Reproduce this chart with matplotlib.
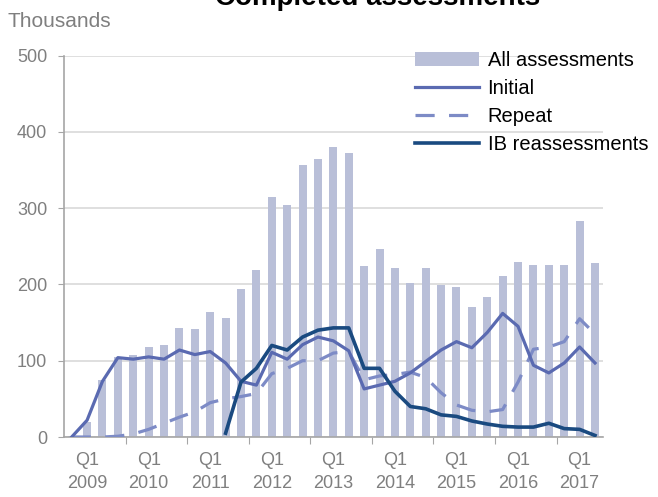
import matplotlib as mpl
mpl.use('Agg')
import matplotlib.pyplot as plt
import numpy as np

plt.rcParams['font.family'] = ['Liberation Sans', 'DejaVu Sans']

quarters = ['Q4 2008',
            'Q1 2009', 'Q2 2009', 'Q3 2009', 'Q4 2009',
            'Q1 2010', 'Q2 2010', 'Q3 2010', 'Q4 2010',
            'Q1 2011', 'Q2 2011', 'Q3 2011', 'Q4 2011',
            'Q1 2012', 'Q2 2012', 'Q3 2012', 'Q4 2012',
            'Q1 2013', 'Q2 2013', 'Q3 2013', 'Q4 2013',
            'Q1 2014', 'Q2 2014', 'Q3 2014', 'Q4 2014',
            'Q1 2015', 'Q2 2015', 'Q3 2015', 'Q4 2015',
            'Q1 2016', 'Q2 2016', 'Q3 2016', 'Q4 2016',
            'Q1 2017', 'Q2 2017']

# thousands
all_assessments = [1, 20, 75, 105, 107, 118, 121, 143, 142, 164, 156, 194, 219, 314,
                   304, 356, 365, 380, 372, 224, 246, 221, 202, 222, 199, 197, 170,
                   184, 211, 229, 225, 225, 225, 283, 228]
initial = [0, 22, 73, 104, 102, 105, 102, 114, 108, 112, 97, 73, 68, 111, 102, 121,
           131, 126, 113, 63, 68, 73, 84, 99, 114, 125, 117, 137, 162, 145, 94, 84,
           97, 118, 97]
repeat = [0, 0, 0, 1, 4, 10, 18, 26, 33, 45, 50, 53, 57, 83, 90, 100, 100, 110, 112,
          75, 80, 82, 85, 78, 58, 42, 35, 33, 36, 72, 115, 118, 125, 155, 135]
ib_reassessments = [None, None, None, None, None, None, None, None, None, None,
                    5, 72, 90, 120, 114, 131, 140, 143, 143, 90, 90, 60, 40, 37, 29,
                    27, 21, 17, 14, 13, 13, 18, 11, 10, 2]

x = np.arange(len(quarters))
ib = np.array([np.nan if v is None else v for v in ib_reassessments], dtype=float)

fig = plt.figure(figsize=(6.58, 4.97), dpi=100)
ax = fig.add_axes([64/658, 60/497, 538.7/658, 381.5/497])

bars = ax.bar(x, all_assessments, width=0.52, color='#B9BFD8', label='All assessments', zorder=2)
l_rep, = ax.plot(x, repeat, color='#7D8BC6', lw=2.3, linestyle=(0, (6, 4.5)),
                 label='Repeat', zorder=3)
l_ini, = ax.plot(x, initial, color='#5A6AB1', lw=2.3, label='Initial', zorder=4)
l_ib, = ax.plot(x, ib, color='#1A4A80', lw=2.6, label='IB reassessments', zorder=5)

ax.set_xlim(-0.5, len(quarters) - 0.5)
ax.set_ylim(0, 500)
ax.set_yticks(np.arange(0, 501, 100))
ax.yaxis.grid(True, color='#D9D9D9', lw=1.2, zorder=0)
ax.set_axisbelow(True)

for s in ['top', 'right']:
    ax.spines[s].set_visible(False)
for s in ['left', 'bottom']:
    ax.spines[s].set_color('#A6A6A6')
    ax.spines[s].set_linewidth(1.2)

label_pos = [i for i, q in enumerate(quarters) if q.startswith('Q1')]
label_txt = [quarters[i].replace(' ', '\n') for i in label_pos]
tick_pos = [i - 0.5 for i, q in enumerate(quarters) if q.startswith('Q4') and i > 0]

ax.set_xticks(tick_pos)
ax.set_xticklabels([''] * len(tick_pos))
ax.set_xticks(label_pos, minor=True)
ax.set_xticklabels(label_txt, minor=True, linespacing=1.45)
ax.tick_params(axis='x', which='major', direction='out', length=5, color='#A6A6A6')
ax.tick_params(axis='x', which='minor', length=0, pad=11, labelsize=13, labelcolor='#7F7F7F')
ax.tick_params(axis='y', direction='out', length=4, color='#A6A6A6', pad=8,
               labelsize=13, labelcolor='#7F7F7F')

fig.text(8/658, 1 - 27/497, 'Thousands', color='#7F7F7F', fontsize=15, va='baseline')
fig.text(378/658, 1 - 5/497, 'Completed assessments', fontsize=20, weight='bold',
         ha='center', va='baseline')

ax.legend([bars, l_ini, l_rep, l_ib],
          ['All assessments', 'Initial', 'Repeat', 'IB reassessments'],
          loc='upper left', bbox_to_anchor=(415/658, 1 - 51/497),
          bbox_transform=fig.transFigure, frameon=False, fontsize=14.5,
          handlelength=3.2, handletextpad=0.4, labelspacing=0.45,
          borderpad=0, borderaxespad=0)

fig.savefig('out.png', dpi=100)
